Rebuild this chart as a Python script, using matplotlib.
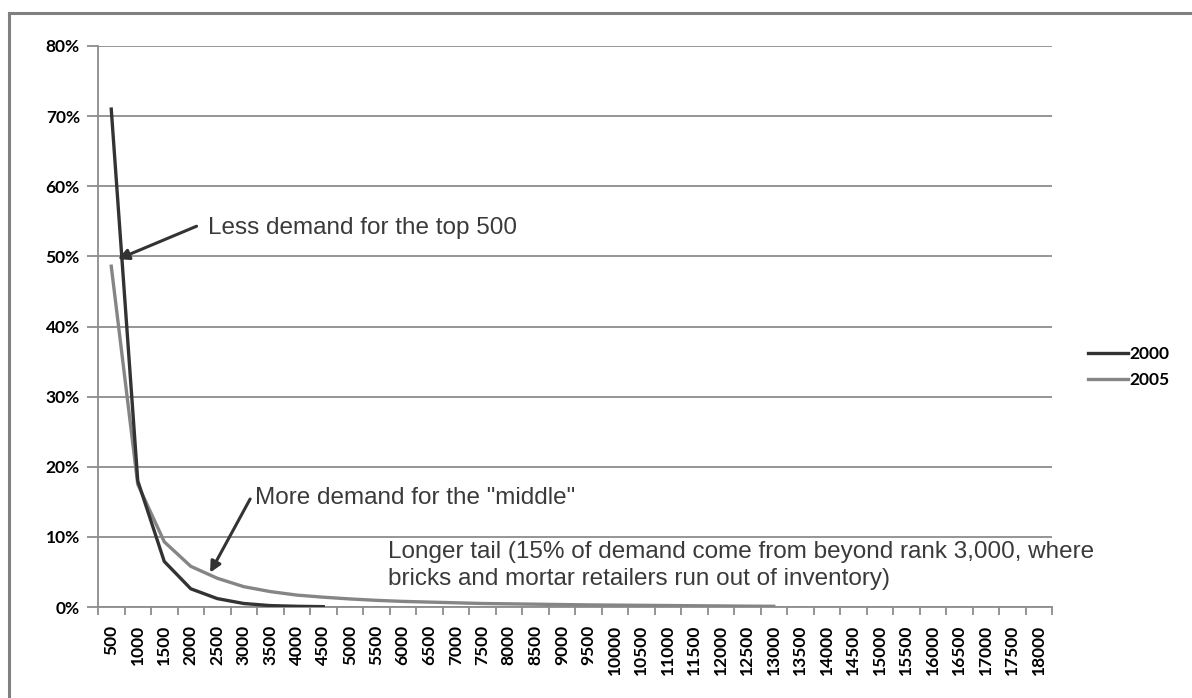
import numpy as np
import matplotlib
matplotlib.use("Agg")
from matplotlib import pyplot as plt
from matplotlib.lines import Line2D

# ranks on the category axis (500 .. 18000)
ranks = [str(r) for r in range(500, 18001, 500)]

# share of demand (%) per rank bucket
demand_2000 = [71.0, 18.0, 6.5, 2.6, 1.2, 0.5, 0.2, 0.1, 0.05]
demand_2005 = [48.6, 17.5, 9.3, 5.8, 4.1, 2.9, 2.2, 1.7, 1.4, 1.15, 0.95, 0.8,
               0.7, 0.6, 0.5, 0.45, 0.4, 0.35, 0.3, 0.27, 0.24, 0.21, 0.18,
               0.15, 0.12, 0.1]

y_ticks = [0, 10, 20, 30, 40, 50, 60, 70, 80]

dark = '#333333'
mid = '#858585'
grid = '#8c8c8c'
tickfont = dict(family='Lato', weight='bold', size=12.5)

fig = plt.figure(figsize=(11.92, 6.98), dpi=100)
ax = fig.add_axes([98/1192, 1-607/698, (1052-98)/1192, (607-46)/698])

x = np.arange(len(ranks))
ax.plot(x[:len(demand_2000)], demand_2000, color=dark, lw=2.4,
        solid_joinstyle='round', label='2000', zorder=4)
ax.plot(x[:len(demand_2005)], demand_2005, color=mid, lw=2.4,
        solid_joinstyle='round', label='2005', zorder=3)

ax.set_xlim(-0.5, len(ranks) - 0.5)
ax.set_ylim(0, 80)

ax.set_yticks(y_ticks)
ax.set_yticklabels([f'{v}%' for v in y_ticks], fontdict=tickfont)
ax.yaxis.grid(True, color=grid, lw=1.3)
ax.set_axisbelow(True)

ax.set_xticks(x)
ax.set_xticklabels(ranks, rotation=90, fontdict=tickfont)
ax.set_xticks(np.arange(-0.5, len(ranks)), minor=True)
ax.tick_params(axis='x', which='major', length=0, pad=13)
ax.tick_params(axis='x', which='minor', length=6, width=1.3, color=grid)
ax.tick_params(axis='y', length=8, width=1.3, color=grid, pad=5)

for s in ['top', 'right']:
    ax.spines[s].set_visible(False)
for s in ['left', 'bottom']:
    ax.spines[s].set_color(grid)
    ax.spines[s].set_linewidth(1.3)

# annotations
txt = dict(family='Liberation Sans', size=17.5, color='#3a3a3a')
arrow = dict(arrowstyle='-|>', color=dark, lw=2.2, mutation_scale=16,
             shrinkA=0, shrinkB=0)

ax.annotate('', xy=(0.25, 49.6), xytext=(3.22, 54.3), arrowprops=arrow)
ax.text(3.65, 54.1, 'Less demand for the top 500', ha='left', va='center', **txt)

ax.annotate('', xy=(3.73, 4.9), xytext=(5.24, 15.4), arrowprops=arrow)
ax.text(5.42, 15.6, 'More demand for the "middle"', ha='left', va='center', **txt)

ax.text(10.44, 5.9, 'Longer tail (15% of demand come from beyond rank 3,000, where\n'
        'bricks and mortar retailers run out of inventory)',
        ha='left', va='center', linespacing=1.32, **txt)

handles = [Line2D([], [], color=dark, lw=2.4), Line2D([], [], color=mid, lw=2.4)]
fig.legend(handles, ['2000', '2005'], loc='center left',
           bbox_to_anchor=(1072/1192, 1-367/698), frameon=False,
           prop=dict(family='Lato', weight='bold', size=12.5),
           handlelength=2.3, handletextpad=0.1, labelspacing=0.55)

# chart frame
fig.add_artist(Line2D([9/1192, 9/1192], [0, 1-13/698], color='#808080', lw=2.2,
                      transform=fig.transFigure))
fig.add_artist(Line2D([9/1192, 1], [1-13/698, 1-13/698], color='#808080', lw=2.2,
                      transform=fig.transFigure))

fig.savefig('out.png', dpi=100)
